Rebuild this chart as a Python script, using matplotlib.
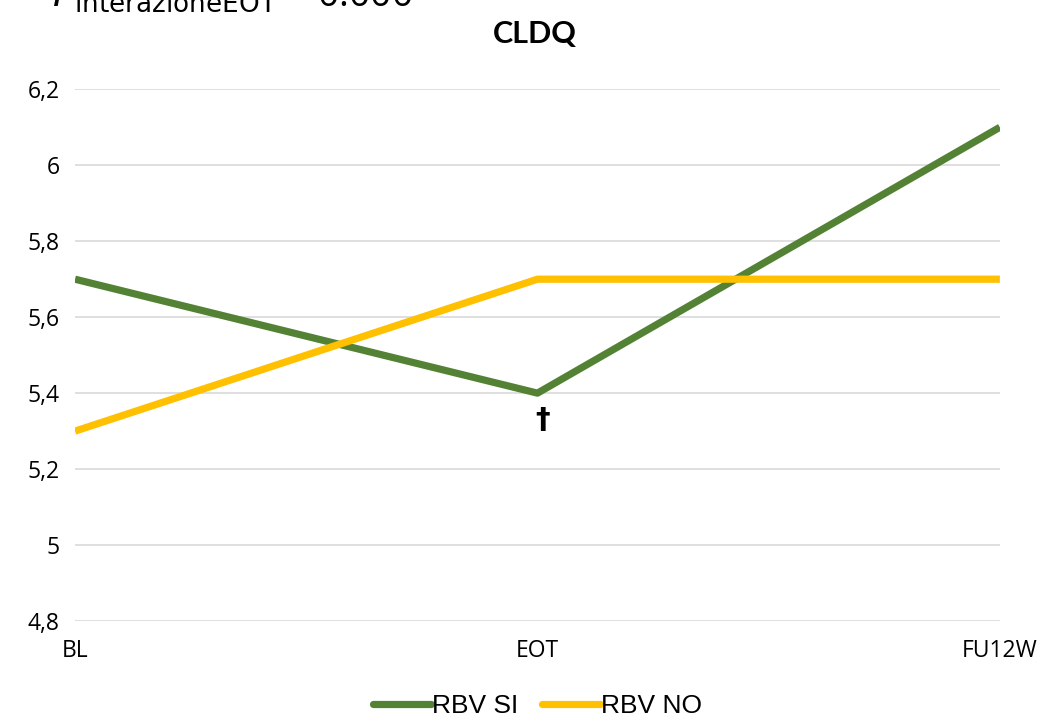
import matplotlib
matplotlib.use("Agg")
from matplotlib import pyplot as plt

categories = ["BL", "EOT", "FU12W"]
rbv_si = [5.7, 5.4, 6.1]
rbv_no = [5.3, 5.7, 5.7]
yticks = [4.8, 5.0, 5.2, 5.4, 5.6, 5.8, 6.0, 6.2]
ytick_labels = ["4,8", "5", "5,2", "5,4", "5,6", "5,8", "6", "6,2"]
dagger_pos = (1.01, 5.33)

fig = plt.figure(figsize=(10.45, 7.26), dpi=100)
ax = fig.add_axes([0.0718, 0.1446, 0.885, 0.7324])

x = list(range(len(categories)))
ax.plot(x, rbv_si, color="#548235", lw=5.2, label="RBV SI", solid_capstyle="butt")
ax.plot(x, rbv_no, color="#FFC000", lw=5.2, label="RBV NO", solid_capstyle="butt")

ax.set_xlim(0, 2)
ax.set_ylim(4.8, 6.2)
ax.set_yticks(yticks)
ax.set_yticklabels(ytick_labels, family="Open Sans", fontsize=16.5)
ax.set_xticks(x)
ax.set_xticklabels(categories, family="Open Sans", fontsize=16.5)
ax.tick_params(length=0, pad=11)
ax.tick_params(axis="x", pad=13)
for s in ax.spines.values():
    s.set_visible(False)
ax.grid(axis="y", color="#d9d9d9", lw=1.2)
ax.set_axisbelow(True)

ax.text(dagger_pos[0], dagger_pos[1], "\u2020", ha="center", va="center", fontsize=21,
        fontweight="bold", family="DejaVu Sans")

fig.text(0.512, 0.953, "CLDQ", ha="center", va="center", fontsize=22, fontweight="bold", family="Lato")
fig.text(0.05, 1.006, r"$\mathit{P}_{\mathrm{interazioneEOT}}$ = 0.000", ha="left", va="center",
         fontsize=27, family="Open Sans")

leg = ax.legend(loc="upper center", bbox_to_anchor=(0.5, -0.093), ncol=2, frameon=False,
                prop={"family": "Liberation Sans", "size": 19}, handlelength=2.2,
                handletextpad=0.05, columnspacing=0.9)
for h in leg.get_lines():
    h.set_solid_capstyle("round")

fig.savefig("out.png", dpi=100)
